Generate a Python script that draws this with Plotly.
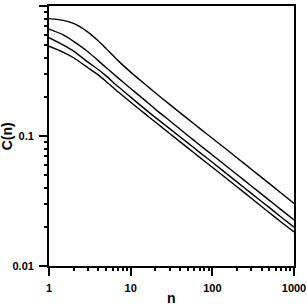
import plotly.graph_objects as go

n_vals = [1, 1.5, 2, 3, 4, 5, 7, 10, 15, 20, 30, 50, 70, 100, 200, 300, 500, 700, 1000]
c_a = [0.80, 0.775, 0.735, 0.63, 0.54, 0.47, 0.38, 0.31, 0.25, 0.215, 0.175, 0.1355, 0.1145, 0.096, 0.068, 0.0555, 0.043, 0.0363, 0.0303]
c_b = [0.665, 0.60, 0.535, 0.445, 0.38, 0.336, 0.28, 0.232, 0.188, 0.161, 0.131, 0.101, 0.0853, 0.0715, 0.0506, 0.0413, 0.032, 0.027, 0.0226]
c_c = [0.57, 0.50, 0.45, 0.37, 0.325, 0.29, 0.240, 0.199, 0.161, 0.139, 0.114, 0.0885, 0.0748, 0.0628, 0.0444, 0.0362, 0.0281, 0.0237, 0.0199]
c_d = [0.49, 0.44, 0.40, 0.335, 0.295, 0.263, 0.219, 0.182, 0.148, 0.128, 0.1045, 0.081, 0.0685, 0.0575, 0.0407, 0.0332, 0.0257, 0.0217, 0.0183]

x_ticks = [1, 10, 100, 1000]
x_labels = ["1", "10", "100", "1000"]
x_minor = [m * d for d in (1, 10, 100) for m in range(2, 10)]
y_ticks = [0.01, 0.1, 1]
y_labels = ["0.01", "0.1", "1"]
y_minor = [m * d for d in (0.01, 0.1) for m in range(2, 10)]

FONT = "Liberation Sans, Arial, sans-serif"

fig = go.Figure()
for ys in (c_a, c_b, c_c, c_d):
    fig.add_trace(go.Scatter(x=n_vals, y=ys, mode="lines",
                             line=dict(color="black", width=1.4, shape="spline", smoothing=0.6),
                             showlegend=False, hoverinfo="skip"))
# invisible trace to anchor the minor-tick axes
fig.add_trace(go.Scatter(x=[1], y=[1], xaxis="x2", yaxis="y2", mode="markers",
                         marker=dict(opacity=0), showlegend=False, hoverinfo="skip"))

tickfont = dict(family=FONT, size=11, color="black", weight="bold")
major = dict(type="log", showgrid=False, zeroline=False, showline=True,
             linecolor="black", linewidth=1.8, mirror=True,
             ticks="outside", ticklen=8, tickwidth=1.8, tickcolor="black",
             tickfont=tickfont, automargin=False, ticklabelstandoff=3)
minor = dict(type="log", showgrid=False, zeroline=False, showline=False,
             ticks="outside", ticklen=4, tickwidth=1.5, tickcolor="black",
             showticklabels=False, automargin=False)

fig.update_layout(
    xaxis=dict(**major, range=[0, 3], tickvals=x_ticks, ticktext=x_labels),
    yaxis=dict(**major, range=[-2, 0], tickvals=y_ticks, ticktext=y_labels),
    xaxis2=dict(**minor, range=[0, 3], tickvals=x_minor, overlaying="x", side="bottom", anchor="y"),
    yaxis2=dict(**minor, range=[-2, 0], tickvals=y_minor, overlaying="y", side="left", anchor="x"),
    width=307, height=308, margin=dict(l=49, r=13, t=6, b=42),
    paper_bgcolor="white", plot_bgcolor="white",
    font=dict(family=FONT, size=11, color="black"),
    annotations=[
        dict(text="<b>n</b>", xref="paper", yref="paper", x=0.5, y=-0.122,
             xanchor="center", yanchor="middle",
             showarrow=False, font=dict(family=FONT, size=14, color="black")),
        dict(text="<b>C(n)</b>", xref="paper", yref="paper", x=-0.17, y=0.5, textangle=-90,
             xanchor="center", yanchor="middle",
             showarrow=False, font=dict(family=FONT, size=14, color="black")),
    ],
)

fig.write_html("out.html", config={"displayModeBar": False},
               post_script="document.body.style.margin='0';document.body.style.padding='0';document.body.style.overflow='hidden';")
